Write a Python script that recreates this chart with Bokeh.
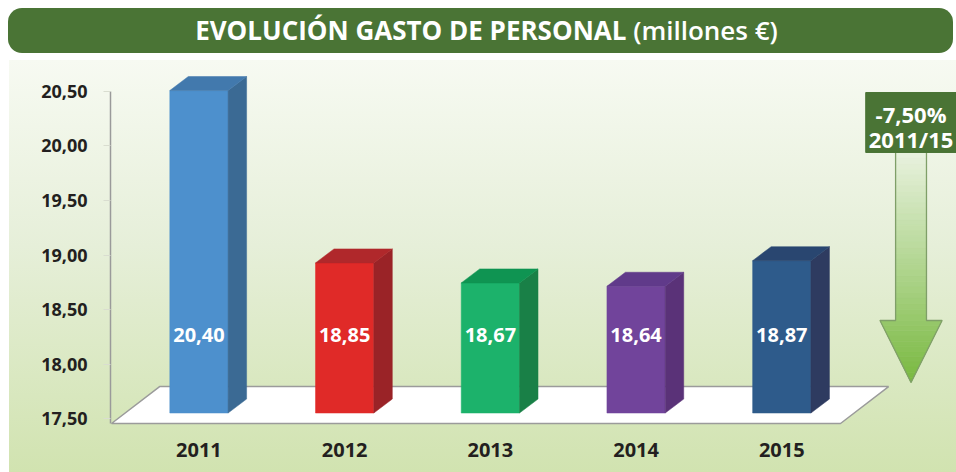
import numpy as np
from bokeh.plotting import figure
from bokeh.models import Range1d, LinearAxis, FixedTicker, Div
from bokeh.layouts import column
from bokeh.core.properties import value
from bokeh.embed import file_html
from bokeh.resources import INLINE

# ---------------- data ----------------
YEARS = [2011, 2012, 2013, 2014, 2015]
VALUES = [20.40, 18.85, 18.67, 18.64, 18.87]
FRONT_COLORS = ["#4d90cd", "#e02a28", "#1cb26b", "#71449b", "#2e5b8b"]
SIDE_COLORS = ["#3b6a94", "#9a2327", "#198047", "#5a3278", "#2e3b60"]
TOP_COLORS = ["#4279ad", "#b0282b", "#0f9452", "#603a8a", "#294670"]
Y_TICKS = [17.5, 18.0, 18.5, 19.0, 19.5, 20.0, 20.5]
Y_TICK_LABELS = ["17,50", "18,00", "18,50", "19,00", "19,50", "20,00", "20,50"]
TITLE_MAIN = "EVOLUCIÓN GASTO DE PERSONAL"
TITLE_UNIT = "(millones €)"

# ---------------- styling / geometry ----------------
BASE = 17.5
HALF = 0.2        # half width of bar front face (x units)
DX, DY = 0.127, 0.126   # 3D depth offset
TEXT_FONT = "Open Sans"
INK = "#231f20"

x = np.arange(len(YEARS))

p = figure(width=956, height=412, output_backend="svg", toolbar_location=None,
           x_range=Range1d(-0.607, 5.199), y_range=Range1d(17.343, 20.670),
           min_border_left=110, min_border_right=0, min_border_top=0, min_border_bottom=42,
           y_axis_location=None)
p.extra_y_ranges = {"axis": Range1d(17.393, 20.781)}
p.grid.visible = False
p.outline_line_color = None
p.background_fill_color = None
p.border_fill_color = None
p.styles = {
    "background-image": "linear-gradient(90deg, #ffffff 0px, #ffffff 9px, rgba(255,255,255,0) 9px), "
                        "linear-gradient(180deg, #f7faf2 0%, #e6efd9 45%, #d1e3b0 100%)"
}

# left axis (value scale)
yax = LinearAxis(y_range_name="axis", ticker=FixedTicker(ticks=Y_TICKS),
                 bounds=(17.457, 20.5))
yax.major_label_overrides = {t: l for t, l in zip(Y_TICKS, Y_TICK_LABELS)}
yax.axis_line_color = "#9a9a9a"
yax.axis_line_width = 1.5
yax.major_tick_out = 7
yax.major_tick_in = 0
yax.major_tick_line_color = "#d9ddd0"
yax.minor_tick_line_color = None
yax.major_label_standoff = 16
yax.major_label_text_font = TEXT_FONT
yax.major_label_text_font_style = "bold"
yax.major_label_text_font_size = "18px"
yax.major_label_text_color = INK
p.add_layout(yax, "left")

# bottom axis (years)
xax = p.xaxis[0]
xax.ticker = FixedTicker(ticks=list(x))
xax.major_label_overrides = {int(i): str(y) for i, y in zip(x, YEARS)}
xax.axis_line_color = None
xax.major_tick_line_color = None
xax.minor_tick_line_color = None
xax.major_label_standoff = 6
xax.major_label_text_font = TEXT_FONT
xax.major_label_text_font_style = "bold"
xax.major_label_text_font_size = "20px"
xax.major_label_text_color = INK

# floor
FLOOR_FRONT, FLOOR_BACK = BASE - 0.094, BASE + 0.238
fl_left, fl_right, fl_dx = x[0] - 0.6, x[-1] + 0.403, 0.33
p.patch([fl_left, fl_right, fl_right + fl_dx, fl_left + fl_dx],
        [FLOOR_FRONT, FLOOR_FRONT, FLOOR_BACK, FLOOR_BACK],
        fill_color="#ffffff", line_color="#9b9b9b", line_width=1.5)

# bars: front faces
p.quad(left=x - HALF, right=x + HALF, bottom=BASE, top=VALUES,
       fill_color=FRONT_COLORS, line_color=FRONT_COLORS, line_width=0.5)
# side faces
p.patches(xs=[[xi + HALF, xi + HALF + DX, xi + HALF + DX, xi + HALF] for xi in x],
          ys=[[BASE, BASE + DY, v + DY, v] for v in VALUES],
          fill_color=SIDE_COLORS, line_color=SIDE_COLORS, line_width=0.5)
# top faces
p.patches(xs=[[xi - HALF, xi + HALF, xi + HALF + DX, xi - HALF + DX] for xi in x],
          ys=[[v, v, v + DY, v + DY] for v in VALUES],
          fill_color=TOP_COLORS, line_color=TOP_COLORS, line_width=0.5)

# value labels inside bars
LABEL_Y = 18.2
p.text(x=list(x), y=[LABEL_Y] * len(x),
       text=[f"{v:.2f}".replace(".", ",") for v in VALUES],
       text_font=value(TEXT_FONT), text_font_style="bold", text_font_size="20px",
       text_color="#ffffff", text_align="center", text_baseline="middle")

# change arrow
ARROW_X = 4.887
SHAFT_HW, HEAD_HW = 0.106, 0.213
SHAFT_TOP, HEAD_TOP, TIP = 19.843, 18.332, 17.774
c_top = np.array([233, 242, 223])
c_bot = np.array([121, 185, 64])


def col(yv):
    t = (SHAFT_TOP - yv) / (SHAFT_TOP - TIP)
    r, g, b = (c_top + (c_bot - c_top) * t).astype(int)
    return f"#{r:02x}{g:02x}{b:02x}"


axs, ays, acs = [], [], []
sb = np.linspace(SHAFT_TOP, HEAD_TOP, 31)
for a, b in zip(sb[:-1], sb[1:]):
    axs.append([ARROW_X - SHAFT_HW, ARROW_X + SHAFT_HW, ARROW_X + SHAFT_HW, ARROW_X - SHAFT_HW])
    ays.append([a, a, b, b])
    acs.append(col((a + b) / 2))
hb = np.linspace(HEAD_TOP, TIP, 13)
for a, b in zip(hb[:-1], hb[1:]):
    wa = HEAD_HW * (a - TIP) / (HEAD_TOP - TIP)
    wb = HEAD_HW * (b - TIP) / (HEAD_TOP - TIP)
    axs.append([ARROW_X - wa, ARROW_X + wa, ARROW_X + wb, ARROW_X - wb])
    ays.append([a, a, b, b])
    acs.append(col((a + b) / 2))
p.patches(xs=axs, ys=ays, fill_color=acs, line_color=acs, line_width=0.6)
p.line([ARROW_X - SHAFT_HW, ARROW_X - SHAFT_HW, ARROW_X - HEAD_HW, ARROW_X,
        ARROW_X + HEAD_HW, ARROW_X + SHAFT_HW, ARROW_X + SHAFT_HW],
       [SHAFT_TOP, HEAD_TOP, HEAD_TOP, TIP, HEAD_TOP, HEAD_TOP, SHAFT_TOP],
       line_color="#7f9f68", line_width=1.3)

# change label box
pct = (VALUES[-1] / VALUES[0] - 1) * 100
BOX_HW = 0.311
p.quad(left=ARROW_X - BOX_HW, right=ARROW_X + BOX_HW, bottom=SHAFT_TOP, top=20.382,
       fill_color="#4a7435", line_color="#4a7435")
p.text(x=[ARROW_X, ARROW_X], y=[20.187, 19.960],
       text=[f"{pct:.2f}".replace(".", ",") + "%", f"{YEARS[0]}/{str(YEARS[-1])[-2:]}"],
       text_font=value(TEXT_FONT), text_font_style="bold", text_font_size="22px",
       text_color="#ffffff", text_align="center", text_baseline="middle")

# title banner
title_html = (
    '<div style="box-sizing:border-box;margin:8px 0 0 8px;width:945px;height:45px;'
    'background:#4a7435;border-radius:14px;display:flex;align-items:center;justify-content:center;'
    'color:#ffffff;font-family:\'Open Sans\',sans-serif;font-size:26px;font-weight:700;white-space:nowrap;">'
    '<span style="display:inline-block;padding-left:12px;">' + TITLE_MAIN +
    ' <span style="font-weight:600">' + TITLE_UNIT + '</span></span></div>'
)
banner = Div(text=title_html, width=956, height=60, margin=(0, 0, 0, 0),
             styles={"background-color": "#ffffff"})

layout = column(banner, p, spacing=0)
open("out.html", "w").write(file_html(layout, INLINE))
